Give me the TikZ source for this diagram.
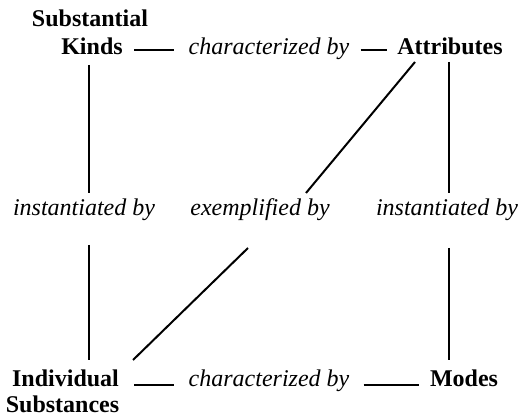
\documentclass[tikz,border=0pt]{standalone}
\usepackage{fontspec}
\setmainfont{Liberation Serif}
\usetikzlibrary{calc}
\begin{document}
\begin{tikzpicture}[x=0.5pt,y=-0.5pt,
  every node/.style={inner sep=0pt, anchor=base, font=\fontsize{12}{14}\selectfont},
  term/.style={font=\fontsize{12}{14}\selectfont\bfseries},
  rel/.style={font=\fontsize{12}{14}\selectfont\itshape},
  conn/.style={line width=1pt}]
\useasboundingbox (0,0) rectangle (521,417);
% terms
\node[term] (subst) at (90,27) {Substantial};
\node[term] (kinds) at (92,55) {Kinds};
\node[term] (attr) at (450,55) {Attributes};
\node[term] (ind) at (65.5,387) {Individual};
\node[term] (subs) at (62.5,413) {Substances};
\node[term] (modes) at (464,387) {Modes};
% relations
\node[rel] (char1) at (269,55) {characterized by};
\node[rel] (char2) at (269,387) {characterized by};
\node[rel] (inst1) at (84,216) {instantiated by};
\node[rel] (ex) at (260,216) {exemplified by};
\node[rel] (inst2) at (447,216) {instantiated by};
% connectors: top row
\draw[conn] ($(kinds.base east)+(11,-5)$) -- ($(char1.base west)+(-14,-5)$);
\draw[conn] ($(char1.base east)+(11,-5)$) -- ($(attr.base west)+(-10,-5)$);
% bottom row
\draw[conn] ($(ind.base east)+(15,-2)$) -- ($(char2.base west)+(-14,-2)$);
\draw[conn] ($(char2.base east)+(14,-2)$) -- ($(modes.base west)+(-11,-2)$);
% left column
\draw[conn] ($(kinds.base)+(-3,10)$) -- ($(inst1.base)+(5,-23)$);
\draw[conn] ($(inst1.base)+(5,29)$) -- ($(ind.base)+(23.5,-27)$);
% right column
\draw[conn] ($(attr.base)+(-1,7)$) -- ($(inst2.base)+(2,-23)$);
\draw[conn] ($(inst2.base)+(2,32)$) -- ($(modes.base)+(-15,-27)$);
% diagonal
\draw[conn] ($(attr.base)+(-35,7)$) -- ($(ex.base)+(46,-23)$);
\draw[conn] ($(ex.base)+(-12,32)$) -- ($(ind.base)+(67.5,-27)$);
\end{tikzpicture}
\end{document}
